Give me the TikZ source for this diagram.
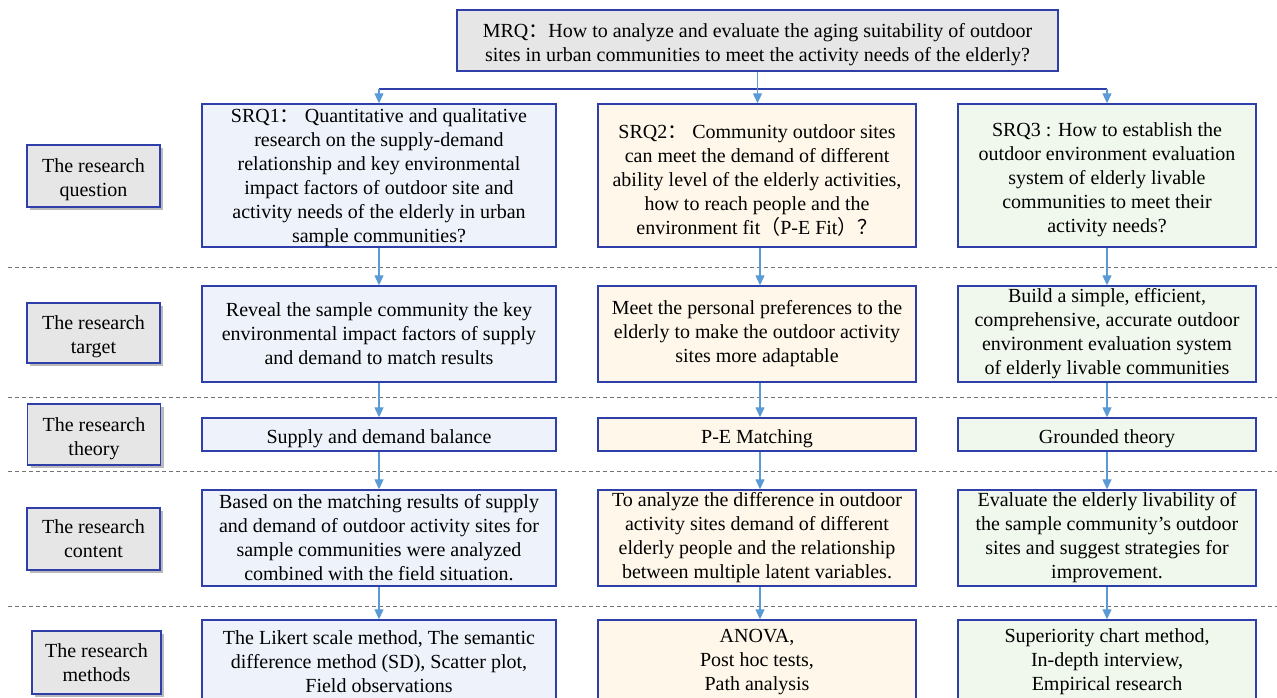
\documentclass[tikz,border=0pt]{standalone}
\usepackage{fontspec}
\setmainfont{Liberation Serif}
\newfontfamily\cjk{Noto Sans CJK SC}
\usetikzlibrary{arrows.meta,shadows}
\newcommand\mystrut{\rule{0pt}{22pt}}
\newcommand\mystrutT{\rule{0pt}{18.5pt}}
\newcommand\mystrutS{\rule{0pt}{22.5pt}}
\newcommand\cj[1]{{\cjk\smash{#1}}}
\definecolor{bord}{HTML}{2E3FAA}
\definecolor{arrc}{HTML}{5B9BD5}
\definecolor{graybg}{HTML}{E7E6E6}
\definecolor{cA}{HTML}{EEF3FB}
\definecolor{cB}{HTML}{FFF8EA}
\definecolor{cC}{HTML}{F0F7EC}
\tikzset{
  base/.style={draw=bord, line width=1.4pt, inner sep=0pt, align=center,
    font=\fontsize{20}{24}\selectfont},
  boxA/.style={base, fill=cA},
  boxB/.style={base, fill=cB},
  boxC/.style={base, fill=cC},
  lab/.style={base, fill=graybg, minimum width=133pt,
    drop shadow={shadow xshift=3pt, shadow yshift=-3pt, fill=black!45, opacity=0.6}},
  arr/.style={draw=arrc, line width=1.2pt, -{Triangle[length=10pt,width=9pt]}},
  sep/.style={draw=black!55, dashed, dash pattern=on 4pt off 3pt, line width=0.8pt},
}
\begin{document}
\begin{tikzpicture}[x=1pt,y=-1pt]
\useasboundingbox (0,0) rectangle (1277,698);
\clip (0,0) rectangle (1277,698);
\fill[white] (0,0) rectangle (1277,698);
% separators
\foreach \yy in {267,397,471,606} \draw[sep] (8,\yy) -- (1277,\yy);
% MRQ
\node[base, fill=graybg, minimum width=601pt, minimum height=61pt] (mrq) at (757.5,40.5)
  {\mystrut MRQ\cj{：}How to analyze and evaluate the aging suitability of outdoor\\sites in urban communities to meet the activity needs of the elderly?};
% row 1
\node[boxA, minimum width=354pt, minimum height=143pt] (a1) at (379,175.5)
  {\mystrutT SRQ1\cj{：} Quantitative and qualitative\\research on the supply-demand\\relationship and key environmental\\impact factors of outdoor site and\\activity needs of the elderly in urban\\sample communities?};
\node[boxB, minimum width=318pt, minimum height=143pt] (b1) at (757,175.5)
  {\mystrut SRQ2\cj{：} Community outdoor sites\\can meet the demand of different\\ability level of the elderly activities,\\how to reach people and the\\environment fit\cj{（}P-E Fit\cj{）？}};
\node[boxC, minimum width=298pt, minimum height=143pt] (c1) at (1107,175.5)
  {\mystrut SRQ3 : How to establish the\\outdoor environment evaluation\\system of elderly livable\\communities to meet their\\activity needs?};
% row 2
\node[boxA, minimum width=354pt, minimum height=96pt] (a2) at (379,334)
  {Reveal the sample community the key\\environmental impact factors of supply\\and demand to match results};
\node[boxB, minimum width=318pt, minimum height=96pt] (b2) at (757,334)
  {Meet the personal preferences to the\\elderly to make the outdoor activity\\sites more adaptable};
\node[boxC, minimum width=298pt, minimum height=96pt] (c2) at (1107,334)
  {Build a simple, efficient,\\comprehensive, accurate outdoor\\environment evaluation system\\of elderly livable communities};
% row 3
\node[boxA, minimum width=354pt, minimum height=33pt] (a3) at (379,434.5) {\mystrutS Supply and demand balance};
\node[boxB, minimum width=318pt, minimum height=33pt] (b3) at (757,434.5) {\mystrutS P-E Matching};
\node[boxC, minimum width=298pt, minimum height=33pt] (c3) at (1107,434.5) {\mystrutS Grounded theory};
% row 4
\node[boxA, minimum width=354pt, minimum height=96pt] (a4) at (379,538)
  {Based on the matching results of supply\\and demand of outdoor activity sites for\\sample communities were analyzed\\combined with the field situation.};
\node[boxB, minimum width=318pt, minimum height=96pt] (b4) at (757,538)
  {To analyze the difference in outdoor\\activity sites demand of different\\elderly people and the relationship\\between multiple latent variables.};
\node[boxC, minimum width=298pt, minimum height=96pt] (c4) at (1107,538)
  {Evaluate the elderly livability of\\the sample community's outdoor\\sites and suggest strategies for\\improvement.};
% row 5
\node[boxA, minimum width=354pt, minimum height=84pt] (a5) at (379,662)
  {The Likert scale method, The semantic\\difference method (SD), Scatter plot,\\Field observations};
\node[boxB, minimum width=318pt, minimum height=84pt] (b5) at (757,662)
  {ANOVA,\\Post hoc tests,\\Path analysis};
\node[boxC, minimum width=298pt, minimum height=84pt] (c5) at (1107,662)
  {Superiority chart method,\\In-depth interview,\\Empirical research};
% labels
\node[lab, minimum height=62pt] (l1) at (93.5,176) {\mystrut The research\\question};
\node[lab, minimum height=60pt] (l2) at (93.5,333) {\mystrut The research\\target};
\node[lab, minimum height=61pt] (l3) at (94,434.5) {\mystrut The research\\theory};
\node[lab, minimum height=62pt] (l4) at (93.5,539) {The research\\content};
\node[lab, minimum width=129pt, minimum height=63pt] (l5) at (96.5,662.5) {The research\\methods};
% top connectors
\coordinate (j1) at (a1.north |- 0,89);
\coordinate (j3) at (c1.north |- 0,89);
\draw[draw=bord, line width=1.2pt] (j1) -- (j3);
\draw[arr] (mrq.south) -- (mrq.south |- b1.north);
\draw[arr] (j1) -- (a1.north);
\draw[arr] (j3) -- (c1.north);
% column arrows
\foreach \u/\v in {a1/a2,a2/a3,a3/a4,a4/a5,c1/c2,c2/c3,c3/c4,c4/c5}
  \draw[arr] (\u.south) -- (\v.north);
\foreach \u/\v in {b1/b2,b2/b3,b3/b4,b4/b5}
  \draw[arr] ([xshift=3pt]\u.south) -- ([xshift=3pt]\v.north);
\end{tikzpicture}
\end{document}
